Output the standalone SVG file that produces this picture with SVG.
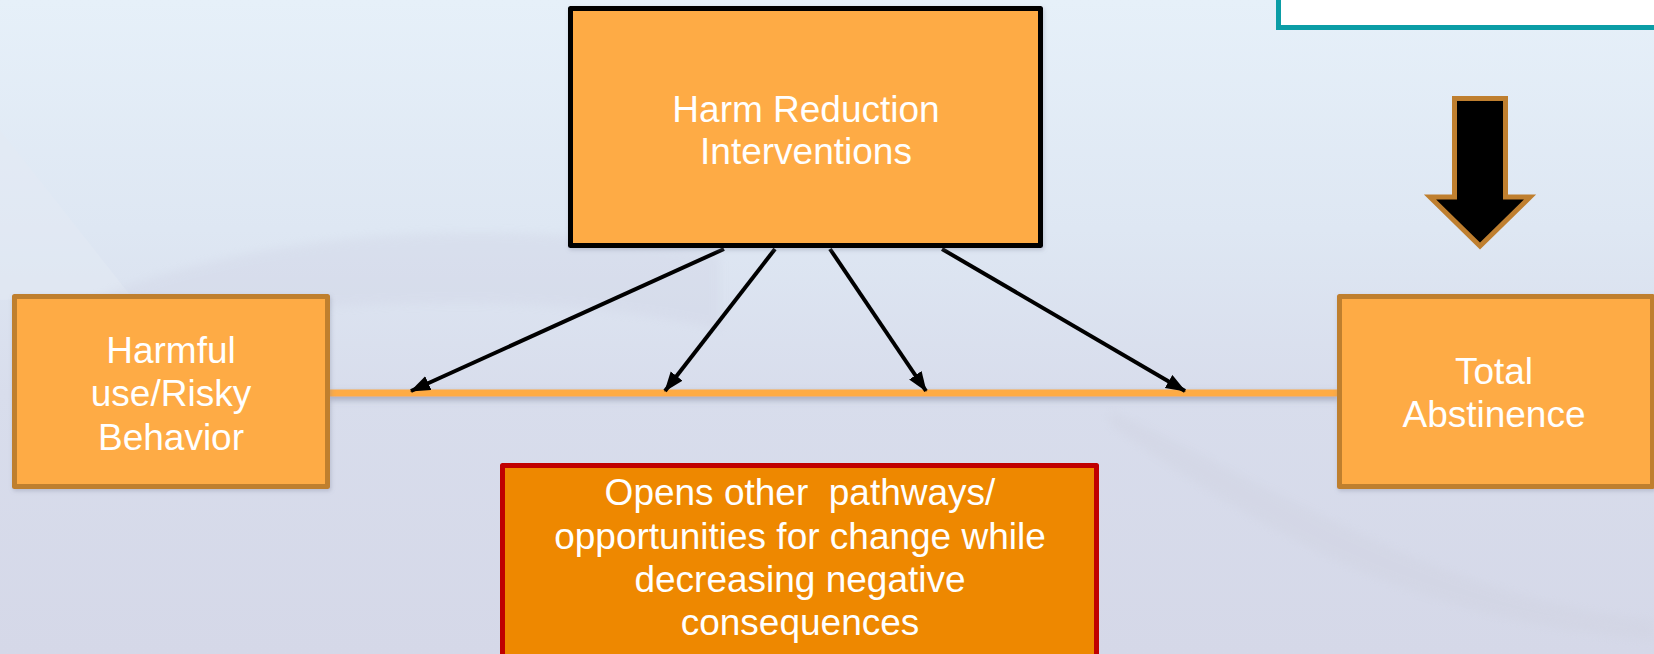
<svg xmlns="http://www.w3.org/2000/svg" width="1654" height="654" viewBox="0 0 1654 654">
<defs>
<linearGradient id="bg" x1="0" y1="0" x2="0" y2="1">
<stop offset="0" stop-color="#E6F0F9"/>
<stop offset="0.35" stop-color="#DEE7F3"/>
<stop offset="0.6" stop-color="#D8DDEC"/>
<stop offset="1" stop-color="#D5D8E8"/>
</linearGradient>
<marker id="ah" markerUnits="userSpaceOnUse" markerWidth="22" markerHeight="16" refX="19" refY="7.5" orient="auto">
<path d="M0,0 L20,7.5 L0,15 Z" fill="#000"/>
</marker>
<filter id="sh" filterUnits="userSpaceOnUse" x="300" y="370" width="1060" height="50">
<feDropShadow dx="0" dy="3" stdDeviation="3" flood-color="#7a7f95" flood-opacity="0.6"/>
</filter>
<filter id="bsh" x="-5%" y="-5%" width="110%" height="110%">
<feDropShadow dx="1" dy="2" stdDeviation="2" flood-color="#7a7f95" flood-opacity="0.35"/>
</filter>
<filter id="soft" x="-10%" y="-10%" width="120%" height="120%"><feGaussianBlur stdDeviation="5"/></filter>
</defs>
<style>
.box{stroke-width:5;stroke-linejoin:round}
.lt{fill:#FEAB44;stroke:#BF7F2F}
.t{font-family:"Liberation Sans",Arial,sans-serif;font-size:37px;fill:#FFFFFF;text-anchor:middle;white-space:pre}
.arr{stroke:#000;stroke-width:4;fill:none;marker-end:url(#ah)}
</style>
<rect x="0" y="0" width="1654" height="654" fill="url(#bg)"/>
<path d="M0,130 L130,295 L0,300 Z" fill="#E2E9F4" opacity="0.6"/>
<path d="M90,300 C200,255 330,235 450,233 C560,231 640,240 720,255 L720,330 C600,300 400,290 90,330 Z" fill="#CDD0E2" opacity="0.3" filter="url(#soft)"/>
<path d="M1110,410 C1300,500 1450,600 1654,620 L1654,640 C1450,625 1300,560 1110,425 Z" fill="#CFD1DF" opacity="0.35" filter="url(#soft)"/>

<g id="top-right-box">
<rect x="1278.5" y="-10" width="400" height="37.5" fill="#FFFFFF" stroke="#0B9DA6" stroke-width="5"/>
</g>

<g id="down-arrow">
<path d="M1454.5,98.5 H1505.5 V197 H1530 L1480,246 L1430,197 H1454.5 Z" fill="#000" stroke="#BF7F2F" stroke-width="5"/>
</g>

<g id="connectors">
<rect x="329" y="389.5" width="1010" height="7" fill="#FEAB44" filter="url(#sh)"/>
<line class="arr" x1="724" y1="249" x2="411" y2="391"/>
<line class="arr" x1="775" y1="249" x2="665" y2="391"/>
<line class="arr" x1="830" y1="249" x2="926" y2="391"/>
<line class="arr" x1="942" y1="249" x2="1185" y2="391"/>
</g>

<g id="harm-reduction">
<rect class="box" x="570.5" y="8.5" width="470" height="237" fill="#FEAB44" stroke="#000" filter="url(#bsh)"/>
<text class="t" x="806" y="122">Harm Reduction</text>
<text class="t" x="806" y="164">Interventions</text>
</g>

<g id="harmful-use">
<rect class="box lt" x="14.5" y="296.5" width="313" height="190" filter="url(#bsh)"/>
<text class="t" x="171" y="363">Harmful</text>
<text class="t" x="171" y="406">use/Risky</text>
<text class="t" x="171" y="450">Behavior</text>
</g>

<g id="total-abstinence">
<rect class="box lt" x="1339.5" y="296.5" width="313" height="190" filter="url(#bsh)"/>
<text class="t" x="1494" y="384">Total</text>
<text class="t" x="1494" y="427">Abstinence</text>
</g>

<g id="opens-pathways">
<rect class="box" x="502.5" y="465.5" width="594" height="210" fill="#EE8800" stroke="#C00000"/>
<text class="t" x="800" y="505">Opens other  pathways/</text>
<text class="t" x="800" y="549">opportunities for change while</text>
<text class="t" x="800" y="592">decreasing negative</text>
<text class="t" x="800" y="635">consequences</text>
</g>
</svg>
